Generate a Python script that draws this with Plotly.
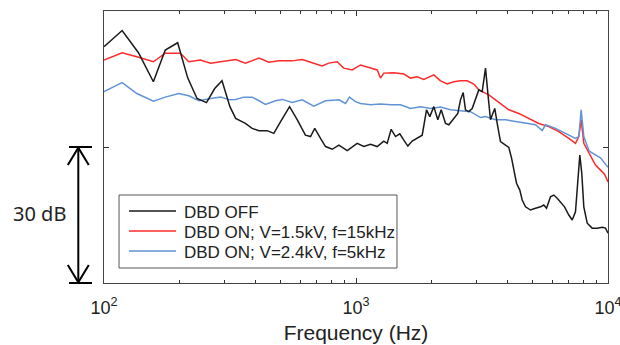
import plotly.graph_objects as go

# ---- data (frequency in Hz, relative level in dB) ----
off_freq = [100, 118, 137, 157, 175, 196, 215, 234, 255, 275, 294, 316, 333, 364, 387, 412,
            444, 472, 502, 545, 585, 630, 660, 686, 723, 757, 805, 855, 923, 995, 1011, 1074,
            1142, 1214, 1289, 1330, 1379, 1435, 1492, 1548, 1606, 1671, 1750, 1831, 1905, 1963,
            2036, 2112, 2178, 2266, 2336, 2444, 2535, 2598, 2663, 2719, 2803, 2891, 3008, 3071,
            3168, 3265, 3346, 3417, 3490, 3554, 3633, 3744, 3920, 4040, 4141, 4229, 4335, 4467,
            4566, 4706, 4926, 5156, 5397, 5562, 5702, 5914, 6095, 6287, 6480, 6722, 6990, 7210,
            7430, 7590, 7729, 7870, 8017, 8270, 8656, 9061, 9484, 9774, 10000]
off_db = [22.1, 25.7, 20.8, 14.4, 21.4, 23.0, 15.2, 10.7, 9.8, 12.9, 14.6, 8.9, 6.3, 5.2, 4.1, 3.6,
          3.6, 3.0, 5.6, 8.9, 6.0, 2.6, 2.3, 4.1, 1.9, 0.1, -0.5, 0.4, -0.8, 0.4, 0.8, 0.1,
          0.6, 0.1, 1.3, 0.8, 3.9, 2.3, 2.9, 1.5, 0.2, 1.3, 1.9, 2.6, 8.2, 6.7,
          8.9, 6.0, 8.2, 5.2, 4.9, 6.3, 7.4, 10.4, 12.0, 8.2, 7.8, 8.5, 11.5, 12.6,
          12.2, 17.4, 11.1, 6.0, 7.4, 8.5, 5.2, 1.2, 0.4, -0.1, -2.4, -5.1, -8.0, -9.5,
          -11.7, -13.2, -13.9, -13.5, -13.2, -12.8, -13.5, -11.0, -10.6, -11.3, -12.1, -13.2, -15.0, -16.1,
          -14.3, -8.0, -1.8, -5.8, -13.2, -16.8, -17.9, -17.9, -17.7, -17.9, -19.0]

on15_freq = [100, 118, 135, 157, 175, 201, 217, 241, 265, 290, 316, 333, 364, 412, 451, 494,
             558, 612, 670, 734, 780, 842, 894, 966, 1042, 1142, 1214, 1251, 1289, 1413, 1548,
             1646, 1750, 1858, 2036, 2164, 2301, 2444, 2598, 2762, 2935, 3071, 3365, 3577, 3804,
             4040, 4426, 4850, 5315, 5823, 6381, 6990, 7430, 7659, 7827, 8017, 8390, 8522, 8920,
             9336, 9685, 10000]
on15_db = [19.2, 20.8, 19.9, 18.8, 20.7, 20.7, 18.8, 19.2, 18.5, 18.8, 19.0, 19.3, 18.5, 19.6, 18.7, 19.0,
           19.0, 19.3, 18.6, 17.9, 18.5, 18.8, 17.4, 17.0, 18.1, 17.4, 17.0, 15.2, 16.3, 16.4, 16.1,
           15.2, 15.5, 14.9, 15.9, 14.6, 13.9, 14.4, 14.6, 14.6, 13.9, 12.6, 11.5, 10.4, 9.3,
           8.2, 7.4, 6.3, 5.2, 4.5, 3.4, 1.9, 0.8, 2.3, 6.0, 0.8, -1.4, -1.8, -4.0,
           -5.1, -6.0, -7.7]

on24_freq = [100, 118, 135, 157, 175, 198, 217, 238, 265, 290, 316, 333, 359, 387, 412, 437,
             479, 510, 558, 612, 680, 757, 855, 909, 942, 995, 1042, 1142, 1251, 1371, 1502,
             1646, 1803, 1975, 2164, 2371, 2598, 2847, 3119, 3265, 3577, 3920, 4295, 4706, 5156,
             5482, 5649, 6191, 6782, 7430, 7659, 7827, 8017, 8390, 8522, 8920, 9336, 10000]
on24_db = [12.2, 14.2, 11.8, 10.1, 11.0, 11.8, 11.3, 10.2, 10.7, 11.0, 10.4, 10.5, 11.0, 11.0, 10.2, 9.4,
           10.2, 10.5, 9.8, 10.4, 9.0, 10.2, 10.4, 9.6, 11.0, 10.0, 9.6, 9.3, 9.5, 9.3, 9.3,
           8.5, 8.9, 8.5, 8.8, 8.2, 8.0, 7.8, 6.5, 6.7, 6.0, 6.0, 5.6, 5.2, 4.9,
           3.6, 4.9, 4.1, 3.0, 1.9, 2.3, 8.2, 2.3, -0.7, -1.1, -1.8, -2.4, -4.5]

series_names = ["DBD OFF", "DBD ON; V=1.5kV, f=15kHz", "DBD ON; V=2.4kV, f=5kHz"]
series_colors = ["#1a1a1a", "#ff2a2a", "#6193d6"]
x_tick_vals = [100, 1000, 10000]
x_tick_text = ["10<sup>2</sup>", "10<sup>3</sup>", "10<sup>4</sup>"]
x_minor_vals = [200, 300, 400, 500, 600, 700, 800, 900,
                2000, 3000, 4000, 5000, 6000, 7000, 8000, 9000]
scale_label = "30 dB"

FONT = "Liberation Sans, Arial, sans-serif"

fig = go.Figure()
fig.add_trace(go.Scatter(x=on15_freq, y=on15_db, mode="lines", name=series_names[1],
                         line=dict(color=series_colors[1], width=1.5)))
fig.add_trace(go.Scatter(x=on24_freq, y=on24_db, mode="lines", name=series_names[2],
                         line=dict(color=series_colors[2], width=1.5)))
fig.add_trace(go.Scatter(x=off_freq, y=off_db, mode="lines", name=series_names[0],
                         line=dict(color=series_colors[0], width=1.5)))

# 30 dB scale arrow (paper coordinates: y 0 -> -30 dB, 0.5 -> 0 dB)
xl = -0.051
shapes = [
    dict(type="line", xref="paper", yref="paper", x0=xl, x1=xl, y0=0.0, y1=0.5,
         line=dict(color="black", width=2)),
    dict(type="line", xref="paper", yref="paper", x0=-0.0694, x1=-0.0238, y0=0.5, y1=0.5,
         line=dict(color="black", width=2)),
    dict(type="line", xref="paper", yref="paper", x0=-0.0694, x1=-0.0238, y0=0.0, y1=0.0,
         line=dict(color="black", width=2)),
    dict(type="path", xref="paper", yref="paper",
         path=f"M {xl-0.0208},0.4338 L {xl},0.4975 L {xl+0.0208},0.4338",
         line=dict(color="black", width=2)),
    dict(type="path", xref="paper", yref="paper",
         path=f"M {xl-0.0208},0.0662 L {xl},0.0025 L {xl+0.0208},0.0662",
         line=dict(color="black", width=2)),
]

# legend box drawn in paper coordinates
shapes.append(dict(type="rect", xref="paper", yref="paper", x0=0.0298, x1=0.5813,
                   y0=0.0551, y1=0.3235, fillcolor="white",
                   line=dict(color="#555", width=1), layer="above"))
annotations = [dict(text=scale_label, xref="paper", yref="paper", x=-0.1276, y=0.257,
                    xanchor="center", yanchor="middle", showarrow=False,
                    font=dict(family="Noto Sans, Open Sans, sans-serif", size=20, color="#222"))]
row_y = [0.2647, 0.1912, 0.1176]
for name, col, ry in zip(series_names, series_colors, row_y):
    shapes.append(dict(type="line", xref="paper", yref="paper", x0=0.0496, x1=0.1429,
                       y0=ry, y1=ry, line=dict(color=col, width=1.5), layer="above"))
    annotations.append(dict(text=name, xref="paper", yref="paper", x=0.1548, y=ry - 0.006,
                            xanchor="left", yanchor="middle", showarrow=False,
                            font=dict(family=FONT, size=17, color="#222")))

fig.update_layout(
    width=620, height=345,
    margin=dict(l=104, r=12, t=11, b=62, autoexpand=False),
    paper_bgcolor="white", plot_bgcolor="white",
    font=dict(family=FONT, size=17, color="#222"),
    showlegend=False,
    shapes=shapes,
    annotations=annotations,
)
fig.update_xaxes(type="log", range=[1.99999, 4.00001], tickmode="array", tickvals=x_tick_vals,
                 ticktext=x_tick_text, ticks="inside", ticklen=5, tickcolor="#333",
                 showline=True, linecolor="#444", linewidth=1, mirror="allticks",
                 showgrid=False, zeroline=False, ticklabelstandoff=8,
                 ticklabeloverflow="allow", automargin=False,
                 tickfont=dict(family=FONT, size=18, color="#222"),
                 minor=dict(tickmode="array", tickvals=x_minor_vals, ticks="inside",
                            ticklen=3, tickcolor="#333", showgrid=False),
                 title=dict(text="Frequency (Hz)", font=dict(family=FONT, size=21, color="#222"),
                            standoff=8))
fig.update_yaxes(range=[-30, 30], tickmode="array", tickvals=[0], showticklabels=False,
                 ticks="inside", ticklen=5, tickcolor="#333",
                 showline=True, linecolor="#444", linewidth=1, mirror="allticks",
                 showgrid=False, zeroline=False, automargin=False)

fig.write_html("out.html")
